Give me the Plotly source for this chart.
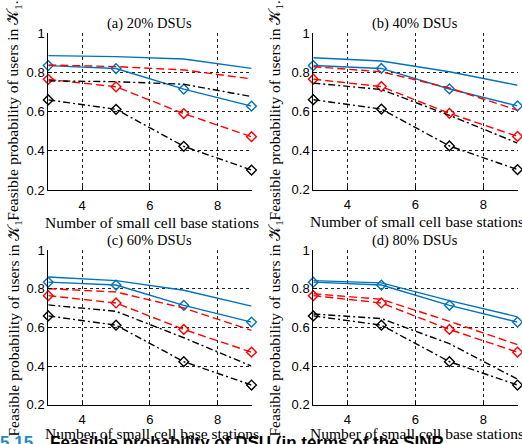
import plotly.graph_objects as go

x_bs = [3, 5, 7, 9]
panel_titles = ["(a) 20% DSUs", "(b) 40% DSUs", "(c) 60% DSUs", "(d) 80% DSUs"]
x_label = "Number of small cell base stations"
y_label = "Feasible probability of users in 𝒦<sub>1</sub>."
x_ticks = [4, 6, 8]
y_ticks = [0.2, 0.4, 0.6, 0.8, 1.0]
y_ticktext = ["0.2", "0.4", "0.6", "0.8", "1"]

# Diamond-marked series (same in all panels)
blue_mark = [0.835, 0.820, 0.715, 0.628]
red_mark = [0.765, 0.727, 0.590, 0.472]
black_mark = [0.660, 0.612, 0.423, 0.302]

# Unmarked series per panel (a, b, c, d)
blue_line = [
    [0.886, 0.881, 0.869, 0.821],
    [0.875, 0.858, 0.803, 0.734],
    [0.862, 0.843, 0.793, 0.711],
    [0.843, 0.831, 0.739, 0.655],
]
red_line = [
    [0.838, 0.830, 0.813, 0.767],
    [0.829, 0.803, 0.720, 0.606],
    [0.801, 0.784, 0.701, 0.585],
    [0.775, 0.746, 0.632, 0.511],
]
black_line = [
    [0.757, 0.753, 0.740, 0.677],
    [0.745, 0.712, 0.580, 0.438],
    [0.717, 0.684, 0.547, 0.400],
    [0.670, 0.646, 0.516, 0.332],
]

caption_num = "5.15"
caption_text = "Feasible probability of DSU (in terms of the SINR"

W, H = 522, 444
BLUE = "#0072BD"
RED = "#FF0000"
BLACK = "#000000"
DASH = "8px,4px"
DASHDOT = "7px,3px,2px,3px"

# panel pixel boxes: (left, right, top, bottom, xlabel offset)
boxes = [
    (48.3, 251.5, 33.3, 190.0, 32),
    (313.3, 517.5, 33.3, 189.5, 32),
    (48.3, 251.5, 250.3, 404.7, 28.5),
    (313.3, 517.5, 250.3, 404.7, 28.5),
]

fig = go.Figure()
layout = dict(
    width=W, height=H, margin=dict(l=0, r=0, t=0, b=0, autoexpand=False),
    paper_bgcolor="white", plot_bgcolor="rgba(0,0,0,0)", showlegend=False,
    font=dict(family="Liberation Sans, Arial", size=13, color="black"),
)
annotations = []

# overlay axis in page-pixel units for the cut-off caption line (drawn first)
layout["xaxis"] = dict(domain=[0, 1], range=[0, W], visible=False,
                       anchor="y", fixedrange=True)
layout["yaxis"] = dict(domain=[0, 1], range=[H, 0], visible=False,
                       anchor="x", fixedrange=True)
fig.add_trace(go.Scatter(
    x=[0], y=[443.6], xaxis="x", yaxis="y", mode="text",
    text=["<b>" + caption_num + "</b>"], textposition="middle right",
    textfont=dict(family="Liberation Sans, Arial", size=17, color="#1E88C8"),
    cliponaxis=False, hoverinfo="skip",
))
fig.add_trace(go.Scatter(
    x=[50], y=[443.6], xaxis="x", yaxis="y", mode="text",
    text=["<b>" + caption_text + "</b>"], textposition="middle right",
    textfont=dict(family="Liberation Sans, Arial", size=17, color="black"),
    cliponaxis=False, hoverinfo="skip",
))

for i in range(4):
    l, r, t, b, xo = boxes[i]
    sx = str(i + 2)
    xa, ya = "x" + sx, "y" + sx
    common = dict(
        showline=True, linecolor="black", linewidth=1, mirror=False,
        ticks="inside", ticklen=4, tickcolor="black", tickwidth=1,
        showgrid=True, gridcolor="#222222", gridwidth=1, griddash="dot",
        zeroline=False, automargin=False,
        tickfont=dict(family="Liberation Sans, Arial", size=13),
    )
    layout["xaxis" + sx] = dict(
        common, domain=[l / W, r / W], range=[3, 9], tickvals=x_ticks,
        anchor=ya, ticklabelstandoff=3,
    )
    layout["yaxis" + sx] = dict(
        common, domain=[1 - b / H, 1 - t / H], range=[0.2, 1.0],
        tickvals=y_ticks, ticktext=y_ticktext, anchor=xa,
    )

    def add(vals, color, dash, marker):
        fig.add_trace(go.Scatter(
            x=x_bs, y=vals, xaxis=xa, yaxis=ya,
            mode="lines+markers" if marker else "lines",
            line=dict(color=color, width=1.4, dash=dash),
            marker=dict(symbol="diamond-open", size=7.5, color=color,
                        line=dict(width=1.4, color=color)) if marker else None,
            cliponaxis=False,
        ))

    add(blue_line[i], BLUE, "solid", False)
    add(blue_mark, BLUE, "solid", True)
    add(red_line[i], RED, DASH, False)
    add(red_mark, RED, DASH, True)
    add(black_line[i], BLACK, DASHDOT, False)
    add(black_mark, BLACK, DASHDOT, True)

    cx = (l + r) / 2
    annotations.append(dict(
        text=panel_titles[i], x=cx / W, y=1 - (t - 10) / H, xref="paper",
        yref="paper", showarrow=False, xanchor="center", yanchor="middle",
        font=dict(family="Liberation Serif, DejaVu Serif", size=14.5),
    ))
    annotations.append(dict(
        text=x_label, x=(cx + 2) / W, y=1 - (b + xo) / H, xref="paper",
        yref="paper", showarrow=False, xanchor="center", yanchor="middle",
        font=dict(family="Liberation Serif, DejaVu Serif", size=15.5),
    ))
    ylx = 14 if i % 2 == 0 else 275
    annotations.append(dict(
        text=y_label, x=ylx / W, y=1 - ((t + b) / 2 - 1) / H, xref="paper",
        yref="paper", showarrow=False, xanchor="center", yanchor="middle",
        textangle=-90,
        font=dict(family="Liberation Serif, DejaVu Serif", size=15.5),
    ))

layout["annotations"] = annotations
fig.update_layout(**layout)
fig.write_html(
    "out.html",
    config={"displayModeBar": False},
    post_script="document.body.style.margin='0px';document.body.style.overflow='hidden';",
)
